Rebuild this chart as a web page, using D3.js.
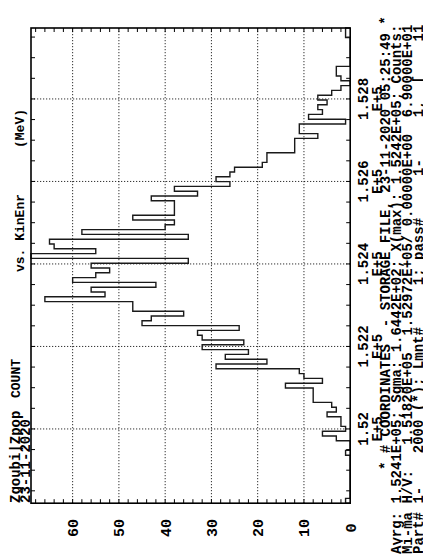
<!DOCTYPE html>
<html><head><meta charset="utf-8">
<script src="https://cdn.jsdelivr.net/npm/d3@7/dist/d3.min.js"></script>
<style>html,body{margin:0;padding:0;background:#fff}svg{display:block}</style>
</head><body>
<script>
// ---- data ----
const binCounts = [1,0,0,0,0,0,0,0,0,0,
 1,0,0,3,6,1,2,2,5,3,
 4,8,8,8,14,6,10,11,29,18,
 27,22,32,23,32,33,24,45,43,36,
 47,47,66,53,56,42,60,55,52,56,
 35,69,55,64,65,35,58,40,38,47,
 38,38,38,43,33,38,26,29,26,25,
 19,18,18,12,12,12,7,11,11,1,
 9,6,7,5,7,4,2,0,2,3,
 3,0,0,0,0,0,0,1,1];
const energyRange = [151820, 152972];
const countRange = [0, 69];
const countTicks = [0, 10, 20, 30, 40, 50, 60];
const energyTicks = [152000, 152200, 152400, 152600, 152800];
const energyTickLabels = ["1.52", "1.522", "1.524", "1.526", "1.528"];
const energyTickExp = "E+5";
const titleText = "Zgoubi|Zpop";
const titleText2 = "COUNT";
const dateText = "23-11-2020";
const axisTitle = "vs. KinEnr";
const axisUnit = "(MeV)";
const statsLines = [
  "* # COORDINATES  - STORAGE FILE, 23-11-2020 05:25:49 *",
  "Avrg: 1.5241E+05; Sgma: 1.6442E+02; X(max): 1.5242E+05; Counts:",
  "Mi-ma H/V:   1.51820E+05  1.52972E+05/ 0.00000E+00  6.90000E+01",
  "Part# 1-    2000 (*); Lmnt#     1; pass#     1-     1,  [    11"
];

// ---- layout (chart drawn unrotated in a 556x423 frame, then rotated) ----
const W = 423, H = 556;
const svg = d3.select("body").append("svg").attr("width", W).attr("height", H);
const g = svg.append("g").attr("transform", `translate(0,${H}) rotate(-90)`);
const font = "'Liberation Mono', 'DejaVu Sans Mono', monospace";

const x = d3.scaleLinear().domain(energyRange).range([52.8, 528]);
const y = d3.scaleLinear().domain(countRange).range([350.2, 31]);
const nb = binCounts.length;
const bw = (energyRange[1] - energyRange[0]) / nb;
const edges = d3.range(nb + 1).map(i => energyRange[0] + i * bw);

// grid
const grid = g.append("g").attr("stroke", "#000").attr("stroke-width", 1)
  .attr("stroke-dasharray", "1,2");
grid.selectAll("line.gy").data(countTicks.filter(d => d > 0)).join("line")
  .attr("x1", x.range()[0]).attr("x2", x.range()[1])
  .attr("y1", d => y(d)).attr("y2", d => y(d));
grid.selectAll("line.gx").data(energyTicks).join("line")
  .attr("x1", d => x(d)).attr("x2", d => x(d))
  .attr("y1", y.range()[0]).attr("y2", y.range()[1]);

// minor ticks on all four sides (inward)
const minorE = d3.range(151850, 152972, 50);
const minorC = d3.range(2, 69, 2);
const tk = g.append("g").attr("stroke", "#000").attr("stroke-width", 1);
const tl = 4;
tk.selectAll("line.e0").data(minorE).join("line")
  .attr("x1", d => x(d)).attr("x2", d => x(d))
  .attr("y1", y(0)).attr("y2", y(0) - tl);
tk.selectAll("line.e1").data(minorE).join("line")
  .attr("x1", d => x(d)).attr("x2", d => x(d))
  .attr("y1", y(69)).attr("y2", y(69) + tl);
tk.selectAll("line.c0").data(minorC).join("line")
  .attr("x1", x.range()[0]).attr("x2", x.range()[0] + tl)
  .attr("y1", d => y(d)).attr("y2", d => y(d));
tk.selectAll("line.c1").data(minorC).join("line")
  .attr("x1", x.range()[1]).attr("x2", x.range()[1] - tl)
  .attr("y1", d => y(d)).attr("y2", d => y(d));

// histogram
const pts = [[edges[0], 0]];
binCounts.forEach((c, i) => pts.push([edges[i], c]));
pts.push([edges[nb], binCounts[nb - 1]]);
pts.push([edges[nb], 0]);
const line = d3.line().x(d => x(d[0])).y(d => y(d[1])).curve(d3.curveStepAfter);
g.append("path").attr("d", line(pts)).attr("fill", "none")
  .attr("stroke", "#1a1a1a").attr("stroke-width", 1.4);

// frame
g.append("rect").attr("x", x.range()[0]).attr("y", y.range()[1])
  .attr("width", x.range()[1] - x.range()[0]).attr("height", y.range()[0] - y.range()[1])
  .attr("fill", "none").attr("stroke", "#000").attr("stroke-width", 1.6);

function txt(s, ux, vy, size, anchor) {
  return g.append("text").attr("x", ux).attr("y", vy)
    .attr("font-family", font).attr("font-weight", "bold").attr("font-size", size)
    .attr("text-anchor", anchor || "start").style("white-space", "pre").text(s);
}

// count tick labels
countTicks.forEach(c => txt(String(c), 28, y(c), 15, "middle").attr("dy", "0.36em"));

// energy tick labels
energyTicks.forEach((e, i) => {
  txt(energyTickLabels[i], x(e), 368, 14, "middle");
  txt(energyTickExp, x(e), 382, 14, "middle");
});

// titles
txt(titleText, 53, 20, 14);
txt(titleText2, 158, 20, 13);
txt(dateText, 53, 30, 14);
txt(axisTitle, 284, 24, 13);
txt(axisUnit, 408, 24, 13);

// stats
txt(statsLines[0], 86, 390, 14);
statsLines.slice(1).forEach((s, i) => txt(s, 2, 401 + i * 11, 14));
</script>
</body></html>
